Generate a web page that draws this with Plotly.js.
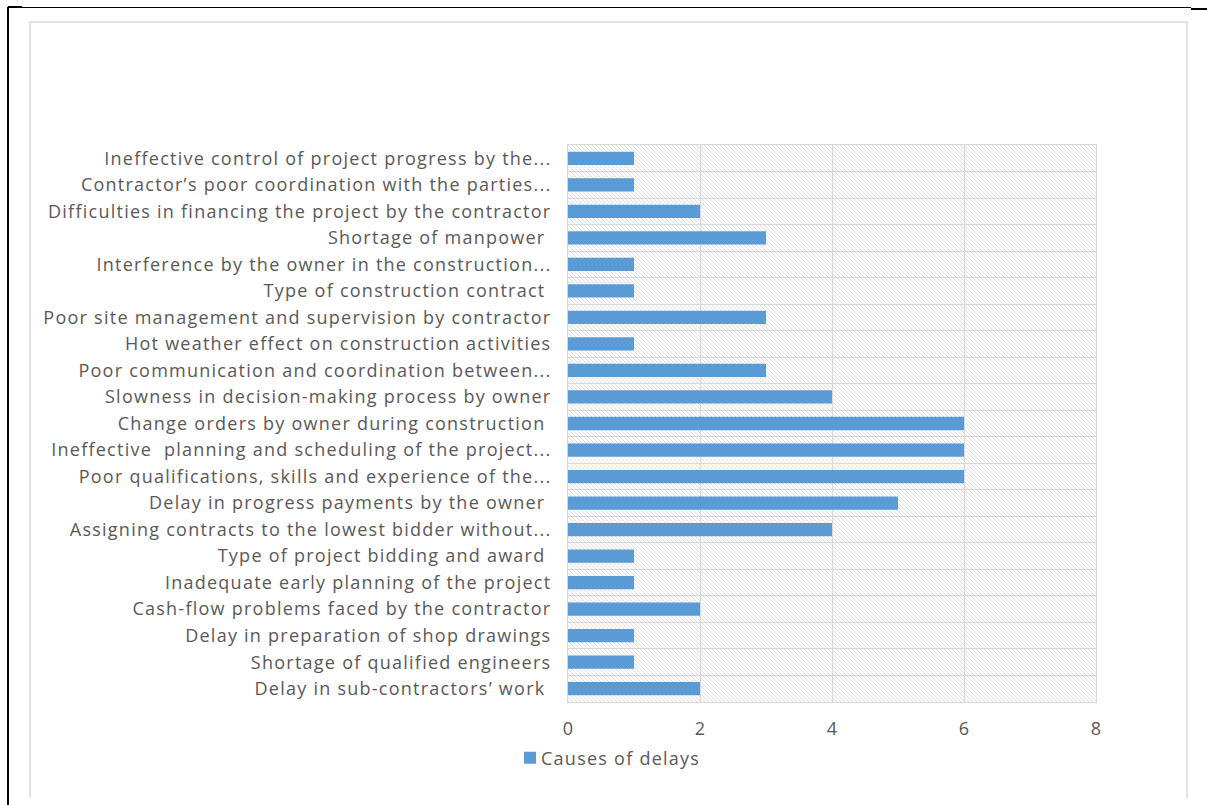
<!DOCTYPE html>
<html>
<head>
<meta charset="utf-8">
<script src="https://cdn.plot.ly/plotly-3.0.1.min.js"></script>
<style>
  html, body { margin: 0; padding: 0; background: #ffffff; }
  #wrap { position: relative; width: 1207px; height: 805px; overflow: hidden; }
  #chart { position: absolute; left: 0; top: 0; width: 1207px; height: 805px; }
  .ln { position: absolute; background: #000; }
  #inner { position: absolute; left: 29px; top: 21px; width: 1155px; height: 775px;
           border-top: 2px solid #e3e3e3; border-left: 2px solid #e3e3e3; border-right: 2px solid #e3e3e3; }
  #chart .ytick text, #chart .legendtext { letter-spacing: 1.25px; }
  #chart .legendtext { transform: translateX(-9px); }
</style>
</head>
<body>
<div id="wrap">
  <div id="inner"></div>
  <div class="ln" style="left:8px;top:7px;width:1183px;height:1px;"></div>
  <div class="ln" style="left:8px;top:6px;width:14px;height:2px;"></div>
  <div class="ln" style="left:1191px;top:8px;width:16px;height:2px;"></div>
  <div class="ln" style="left:7px;top:7px;width:2px;height:798px;"></div>
  <div id="chart"></div>
</div>
<script>
// Categories, top to bottom as shown
var categories = [
  "Ineffective control of project progress by the...",
  "Contractor’s poor coordination with the parties...",
  "Difficulties in financing the project by the contractor",
  "Shortage of manpower ",
  "Interference by the owner in the construction...",
  "Type of construction contract ",
  "Poor site management and supervision by contractor",
  "Hot weather effect on construction activities",
  "Poor communication and coordination between...",
  "Slowness in decision-making process by owner",
  "Change orders by owner during construction ",
  "Ineffective  planning and scheduling of the project...",
  "Poor qualifications, skills and experience of the...",
  "Delay in progress payments by the owner ",
  "Assigning contracts to the lowest bidder without...",
  "Type of project bidding and award ",
  "Inadequate early planning of the project",
  "Cash-flow problems faced by the contractor",
  "Delay in preparation of shop drawings",
  "Shortage of qualified engineers",
  "Delay in sub-contractors’ work "
];
var values = [1, 1, 2, 3, 1, 1, 3, 1, 3, 4, 6, 6, 6, 5, 4, 1, 1, 2, 1, 1, 2];
var seriesName = "Causes of delays";
var xTicks = [0, 2, 4, 6, 8];

// hatch background image for the plot area
var hatchSvg = '<svg xmlns="http://www.w3.org/2000/svg" width="528" height="557" viewBox="0 0 528 557">' +
  '<defs><pattern id="p" width="4" height="4" patternUnits="userSpaceOnUse">' +
  '<path d="M-1,3 L1,5 M-1,-1 L5,5 M3,-1 L5,1" stroke="#d9d9d9" stroke-width="0.85" fill="none"/>' +
  '</pattern></defs><rect width="528" height="557" fill="#ffffff"/><rect width="528" height="557" fill="url(#p)"/></svg>';
var hatchUri = 'data:image/svg+xml;charset=utf-8,' + encodeURIComponent(hatchSvg);

var trace = {
  type: 'bar',
  orientation: 'h',
  y: categories,
  x: values,
  name: seriesName,
  marker: { color: '#5b9bd5', line: { width: 0 } },
  showlegend: true,
  hoverinfo: 'x+y'
};

var font = { family: '"Open Sans", "Liberation Sans", sans-serif', size: 18, color: '#595959' };

var layout = {
  width: 1207,
  height: 805,
  margin: { l: 568, r: 111, t: 145, b: 103, pad: 0 },
  paper_bgcolor: 'rgba(0,0,0,0)',
  plot_bgcolor: 'rgba(0,0,0,0)',
  font: font,
  bargap: 0.5,
  showlegend: true,
  legend: {
    orientation: 'h',
    x: -0.1098, xanchor: 'left',
    y: -0.1005, yanchor: 'middle',
    font: font,
    itemwidth: 30,
    entrywidth: 220,
    entrywidthmode: 'pixels',
    bgcolor: 'rgba(0,0,0,0)'
  },
  xaxis: {
    range: [0, 8],
    tickvals: xTicks,
    ticktext: xTicks.map(String),
    showgrid: true,
    gridcolor: '#d9d9d9',
    gridwidth: 1,
    zeroline: false,
    showline: true,
    linecolor: '#d9d9d9',
    linewidth: 1,
    mirror: true,
    ticks: '',
    ticklabelstandoff: 10,
    tickfont: font,
    fixedrange: true
  },
  yaxis: {
    type: 'category',
    autorange: 'reversed',
    tickson: 'boundaries',
    showgrid: true,
    gridcolor: '#d9d9d9',
    gridwidth: 1,
    showline: true,
    linecolor: '#d9d9d9',
    linewidth: 1,
    mirror: true,
    ticks: '',
    ticklabelstandoff: 12,
    tickfont: font,
    automargin: false,
    fixedrange: true
  },
  images: [{
    source: hatchUri,
    xref: 'paper', yref: 'paper',
    x: 0, y: 1, sizex: 1, sizey: 1,
    xanchor: 'left', yanchor: 'top',
    sizing: 'stretch',
    layer: 'below'
  }]
};

Plotly.newPlot('chart', [trace], layout, { displayModeBar: false, staticPlot: true });
</script>
</body>
</html>
